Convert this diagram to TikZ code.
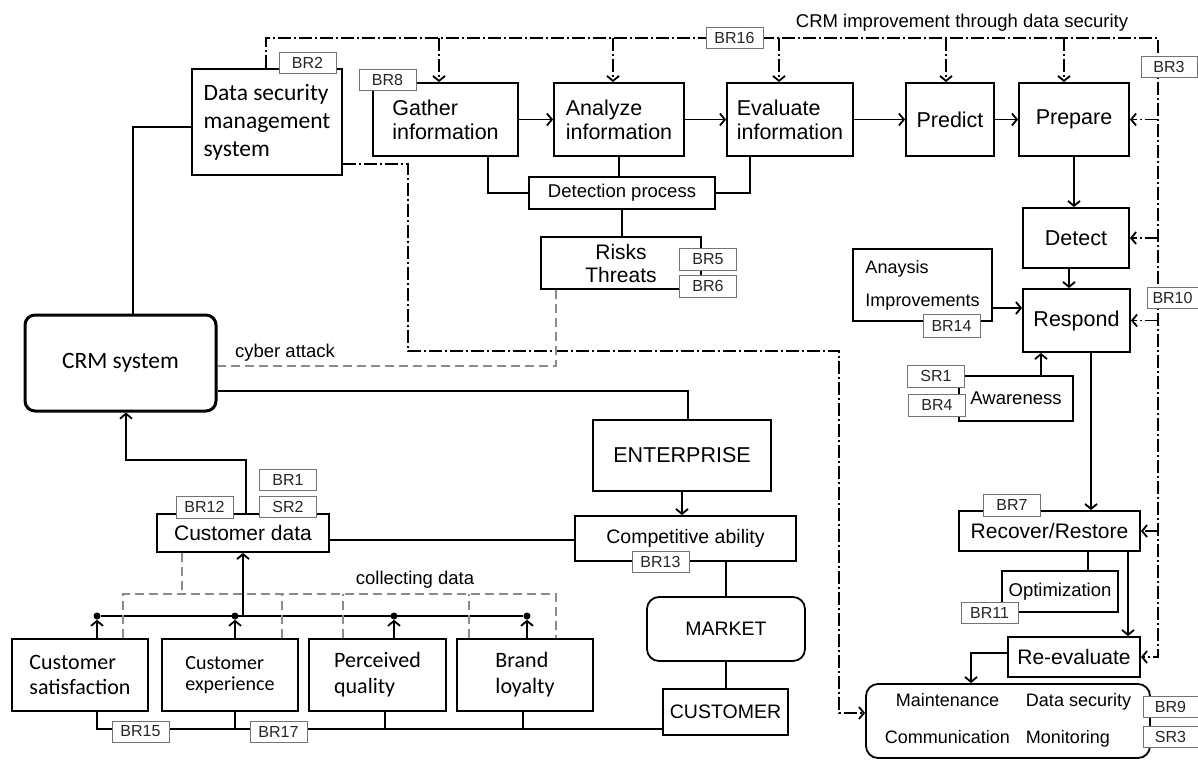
\documentclass[tikz,border=0pt]{standalone}
\usepackage{fontspec}
\setmainfont{Liberation Sans}
\newfontfamily\calfont{Carlito}
\usetikzlibrary{arrows.meta}

\tikzset{
  blk/.style={draw, line width=1.8pt, inner sep=0pt, align=center, font=\fontsize{21.5}{24}\selectfont},
  wh/.style 2 args={minimum width=#1pt, minimum height=#2pt},
  tag/.style={draw=black!55, line width=0.9pt, fill=white, inner sep=0pt, minimum width=57pt, minimum height=21pt, font=\fontsize{16}{18}\selectfont, text=black!85},
  link/.style={line width=1.8pt},
  arr/.style={-{Straight Barb[length=5pt,width=12pt]}},
  dd/.style={line width=1.8pt, dash pattern=on 13pt off 3pt on 2pt off 3pt},
  gdash/.style={line width=1.8pt, draw=black!45, dash pattern=on 9pt off 5pt},
  dot/.style={circle, fill, inner sep=0pt, minimum size=7pt},
}

\begin{document}
\begin{tikzpicture}[x=1pt, y=-1pt]
    \useasboundingbox (0,0) rectangle (1198,760);

    % upper chain
    \node[blk, wh={150}{106}, align=left, font=\calfont\fontsize{23.5}{28}\selectfont] (dsms) at (267,122) {Data security\\management\\system};
    \node[blk, wh={145}{73}, align=left] (gather) at (445.5,119.5) {Gather\\information};
    \node[blk, wh={130}{73}, align=left] (analyze) at (619,119.5) {Analyze\\information};
    \node[blk, wh={126}{73}, align=left] (evaluate) at (790,119.5) {Evaluate\\information};
    \node[blk, wh={88}{73}] (predict) at (950,119.5) {Predict};
    \node[blk, wh={110}{73}] (prepare) at (1074,119.5) {Prepare};
    \node[blk, wh={186}{32}, font=\fontsize{18.5}{22}\selectfont] (detection) at (622,193) {Detection process};
    \node[blk, wh={160}{52}, font=\fontsize{21}{23}\selectfont] (risks) at (621,263) {Risks\\Threats};

    % right column
    \node[blk, wh={106}{60}] (detect) at (1076,238) {Detect};
    \node[blk, wh={107}{63}] (respond) at (1076.5,320.5) {Respond};
    \node[blk, wh={139}{72}, align=left, font=\fontsize{18}{33}\selectfont] (analysis) at (922.5,285) {Anaysis\\Improvements};
    \node[blk, wh={114}{45}, font=\fontsize{18.5}{22}\selectfont] (awareness) at (1016,398.5) {Awareness};
    \node[blk, wh={181}{40}, font=\fontsize{21}{24}\selectfont] (recover) at (1049.5,531) {Recover/Restore};
    \node[blk, wh={116}{41}, font=\fontsize{18.5}{22}\selectfont] (optim) at (1060,591.5) {Optimization};
    \node[blk, wh={132}{40}, font=\fontsize{21}{24}\selectfont] (reeval) at (1074,657) {Re-evaluate};
    \node[blk, rounded corners=12pt, wh={284}{74}, font=\fontsize{18}{21}\selectfont] (outcome) at (1008,721)
        {\begin{tabular}{@{}c@{\hspace{16pt}}l@{}}Maintenance & Data security\\[16pt] Communication & Monitoring\end{tabular}};

    % lower part
    \node[blk, rounded corners=10pt, line width=3pt, wh={191}{96}, font=\calfont\fontsize{23.5}{28}\selectfont] (crm) at (120.5,363) {CRM system};
    \node[blk, wh={178}{71}] (enterprise) at (682,455.5) {ENTERPRISE};
    \node[blk, wh={221}{45}, font=\fontsize{19.5}{22}\selectfont] (compet) at (685.5,538.5) {Competitive ability};
    \node[blk, rounded corners=12pt, wh={158}{64}, font=\fontsize{19.5}{22}\selectfont] (market) at (726,629) {MARKET};
    \node[blk, wh={125}{46}, font=\fontsize{19.5}{22}\selectfont] (customer) at (725.5,712) {CUSTOMER};
    \node[blk, wh={172}{38}, font=\fontsize{21}{24}\selectfont] (custdata) at (243,533) {Customer data};
    \node[blk, wh={136}{72}, align=left, font=\calfont\fontsize{22}{25}\selectfont] (custsat) at (80,675) {Customer\\satisfaction};
    \node[blk, wh={136}{72}, align=left, font=\calfont\fontsize{20}{21}\selectfont] (custexp) at (230,675) {Customer\\experience};
    \node[blk, wh={137}{72}, align=left, font=\calfont\fontsize{22}{26}\selectfont] (perceived) at (377.5,675) {Perceived\\quality};
    \node[blk, wh={136}{72}, align=left, font=\calfont\fontsize{22}{26}\selectfont] (brand) at (525,675) {Brand\\loyalty};

    \node[dot] (d1) at (97,616) {};
    \node[dot] (d2) at (235,616) {};
    \node[dot] (d3) at (394,616) {};
    \node[dot] (d4) at (527,616) {};

    \node[font=\fontsize{18.5}{22}\selectfont] (improve) at (962,23) {CRM improvement through data security};
    \node[font=\fontsize{18.5}{22}\selectfont] (attack) at (285,353) {cyber attack};
    \node[font=\fontsize{18.5}{22}\selectfont] (collect) at (415,580) {collecting data};

    % security frame
    \draw[dd, arr] (dsms.north -| 266,0) |- (1158,38) |- (reeval.east);
    \draw[dd, arr] (439,38) -- (gather.north -| 439,0);
    \draw[dd, arr] (613,38) -- (analyze.north -| 613,0);
    \draw[dd, arr] (779,38) -- (evaluate.north -| 779,0);
    \draw[dd, arr] (946,38) -- (predict.north -| 946,0);
    \draw[dd, arr] (1064,38) -- (prepare.north -| 1064,0);
    \draw[dd, arr] (prepare.east -| 1158,0) -- (prepare.east);
    \draw[dd, arr] (detect.east -| 1158,0) -- (detect.east);
    \draw[dd, arr] (respond.east -| 1158,0) -- (respond.east);
    \draw[dd, arr] (recover.east -| 1158,0) -- (recover.east);
    \draw[dd, arr] (dsms.east |- 0,164) -| (408,351) -| (839,713) -- (outcome.west |- 0,713);

    % process flow
    \draw[link, arr] (gather) -- (analyze);
    \draw[link, arr] (analyze) -- (evaluate);
    \draw[link, arr] (evaluate) -- (predict);
    \draw[link, arr] (predict) -- (prepare);
    \draw[link, arr] (prepare.south) -- (prepare.south |- detect.north);
    \draw[link, arr] (detect.south -| 1069,0) -- (respond.north -| 1069,0);
    \draw[link] (gather.south -| 488,0) |- (detection.west);
    \draw[link] (analyze.south) -- (analyze.south |- detection.north);
    \draw[link] (evaluate.south -| 750,0) |- (detection.east);
    \draw[link] (detection.south) -- (detection.south |- risks.north);
    \draw[gdash] (risks.south -| 556,0) |- (crm.east |- 0,366);

    \draw[link, arr] (analysis.east |- 0,308) -- (respond.west |- 0,308);
    \draw[link, arr] (awareness.north -| 1041,0) -- (respond.south -| 1041,0);
    \draw[link, arr] (respond.south -| 1091,0) -- (recover.north -| 1091,0);
    \draw[link] (recover.south -| 1088,0) -- (optim.north -| 1088,0);
    \draw[link, arr] (recover.south -| 1128,0) -- (reeval.north -| 1128,0);
    \draw[link, arr] (reeval.west |- 0,653) -| (outcome.north -| 971,0);

    % crm and market side
    \draw[link] (dsms.west |- 0,127) -| (crm.north -| 133,0);
    \draw[link] (crm.east |- 0,391) -| (enterprise.north -| 688,0);
    \draw[link, arr] (enterprise.south) -- (enterprise.south |- compet.north);
    \draw[link] (custdata.east |- 0,540) -- (compet.west |- 0,540);
    \draw[link] (compet.south -| market.north) -- (market.north);
    \draw[link] (market.south) -- (market.south |- customer.north);
    \draw[link, arr] (custdata.north -| 246,0) -- ++(0,-53) -| (crm.south -| 126,0);

    % customer factors
    \draw[link] (d1) -- (d4);
    \draw[link, arr] (custsat.north -| d1) -- (d1);
    \draw[link, arr] (custexp.north -| d2) -- (d2);
    \draw[link, arr] (perceived.north -| d3) -- (d3);
    \draw[link, arr] (brand.north -| d4) -- (d4);
    \draw[link, arr] (custdata.south |- d2) -- (custdata.south);
    \draw[link] (custsat.south -| d1) |- (customer.west |- 0,729);
    \draw[link] (custexp.south -| d2) -- (d2 |- 0,729);
    \draw[link] (perceived.south -| 385,0) -- (385,729);
    \draw[link] (brand.south -| 523,0) -- (523,729);
    \draw[gdash] (custsat.north -| 123,0) -- (123,594) -- (556,594) -- (brand.north -| 556,0);
    \draw[gdash] (custdata.south -| 182,0) -- (182,594);
    \draw[gdash] (custexp.north -| 282,0) -- (282,594);
    \draw[gdash] (perceived.north -| 343,0) -- (343,594);
    \draw[gdash] (brand.north -| 469,0) -- (469,594);

    % requirement tags
    \node[tag] (br2) at (307.5,62.5) {BR2};
    \node[tag] (br8) at (387.5,80) {BR8};
    \node[tag] (br16) at (734.5,37.5) {BR16};
    \node[tag, minimum width=56pt] (br3) at (1169,66.5) {BR3};
    \node[tag, minimum height=22pt] (br5) at (708,259) {BR5};
    \node[tag, minimum height=22pt] (br6) at (708,286) {BR6};
    \node[tag, minimum width=51pt] (br10) at (1172.5,297.5) {BR10};
    \node[tag, minimum height=23pt] (br14) at (951.5,325.5) {BR14};
    \node[tag, minimum height=22pt] (sr1) at (936,376) {SR1};
    \node[tag, minimum height=22pt] (br4) at (937,405) {BR4};
    \node[tag, minimum height=22pt] (br7) at (1012,505) {BR7};
    \node[tag] (br11) at (989.5,612.5) {BR11};
    \node[tag, minimum width=55pt] (br9) at (1170.5,706.5) {BR9};
    \node[tag, minimum width=55pt] (sr3) at (1170.5,736.5) {SR3};
    \node[tag] (br13) at (660.5,561.5) {BR13};
    \node[tag, minimum height=22pt] (br12) at (204.5,507) {BR12};
    \node[tag] (sr2) at (288,506.5) {SR2};
    \node[tag] (br1) at (288,479.5) {BR1};
    \node[tag] (br15) at (140.5,731.5) {BR15};
    \node[tag] (br17) at (278.5,731.5) {BR17};
\end{tikzpicture}
\end{document}
